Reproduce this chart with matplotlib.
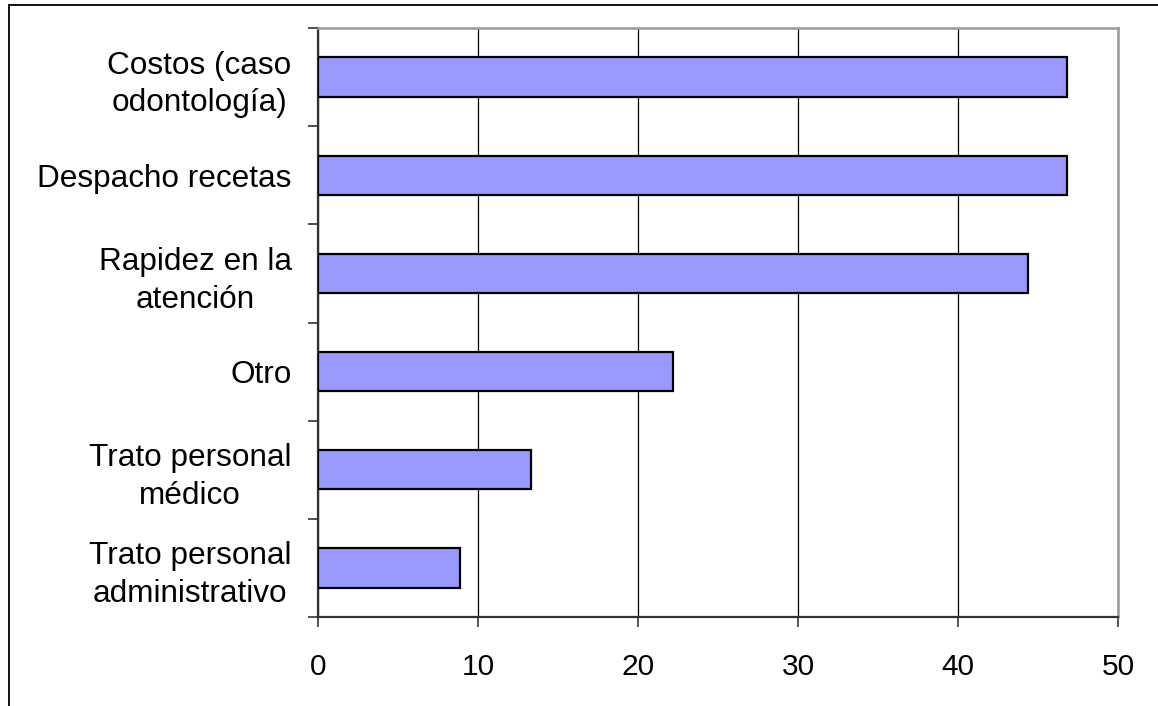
import matplotlib
matplotlib.use("Agg")
import matplotlib.pyplot as plt
from matplotlib.lines import Line2D

categories = ["Costos (caso\nodontología)", "Despacho recetas", "Rapidez en la\natención",
              "Otro", "Trato personal\nmédico", "Trato personal\nadministrativo"]
values = [46.8, 46.8, 44.4, 22.2, 13.3, 8.9]
xticks = [0, 10, 20, 30, 40, 50]

plt.rcParams['font.family'] = ['Liberation Sans', 'DejaVu Sans']

fig = plt.figure(figsize=(11.58, 7.06), dpi=100)
ax = fig.add_axes([318/1158, 1-617/706, (1118-318)/1158, (617-28)/706])

n = len(categories)
ypos = list(range(n))
ax.barh(ypos, values, height=0.4, color="#9999FF", edgecolor="black", linewidth=1.6, zorder=3)

ax.set_xlim(0, 50)
ax.set_ylim(n - 0.5, -0.5)
ax.set_xticks(xticks)
ax.set_xticklabels([str(t) for t in xticks], fontsize=21.5)
ax.set_yticks([i - 0.5 for i in range(n + 1)])
ax.set_yticklabels([])
ax.set_yticks(ypos, minor=True)
ax.set_yticklabels(categories, minor=True, fontsize=22.7, multialignment="center", linespacing=1.33)
ax.tick_params(axis="y", which="minor", length=0, pad=19)
ax.tick_params(axis="y", which="major", length=7, width=1.2, direction="out", color="#333333")
ax.tick_params(axis="x", length=7, width=1.2, direction="out", pad=19, color="#333333")

ax.grid(axis="x", color="black", linewidth=0.9, zorder=0)
for side in ["top", "right"]:
    ax.spines[side].set_color("#9a9a9a")
    ax.spines[side].set_linewidth(1.8)
for side in ["left", "bottom"]:
    ax.spines[side].set_color("#333333")
    ax.spines[side].set_linewidth(1.6)

# outer chart frame (left and top edges)
fig.add_artist(Line2D([9/1158, 9/1158], [0, 1-5/706], transform=fig.transFigure, color="black", linewidth=1.3))
fig.add_artist(Line2D([9/1158, 1], [1-5/706, 1-5/706], transform=fig.transFigure, color="black", linewidth=1.3))

fig.savefig("out.png", dpi=100)
